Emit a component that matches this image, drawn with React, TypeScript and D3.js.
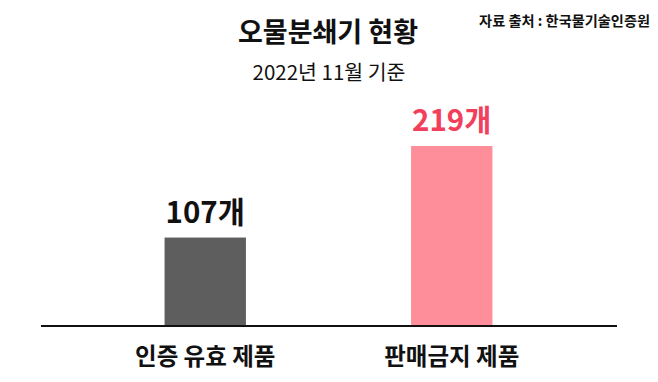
import React from "react";
import * as d3 from "d3";

const categories = ["인증 유효 제품", "판매금지 제품"];
const values = [107, 219];
const valueLabels = ["107개", "219개"];
const barColors = ["#5e5e5e", "#ff8e9b"];
const labelColors = ["#111111", "#f23f5b"];
const title = "오물분쇄기 현황";
const subtitle = "2022년 11월 기준";
const source = "자료 출처 : 한국물기술인증원";

const W = 658;
const H = 382;
const FONT = "'Noto Sans CJK KR', 'Noto Sans', sans-serif";

export default function App() {
  const x = d3.scaleBand<string>().domain(categories).range([82, 575]).paddingInner(0.67).paddingOuter(0.335);
  const y = d3.scaleLinear().domain([0, 219]).range([325, 146]);
  return (
    <svg width={W} height={H} style={{ position: "absolute", left: 0, top: 0, background: "#fff" }} fontFamily={FONT}>
      <rect width={W} height={H} fill="#fff" />
      <text x={328} y={42} textAnchor="middle" fontSize={27} fontWeight={700} fill="#111">{title}</text>
      <text x={329} y={80} textAnchor="middle" fontSize={20.5} fontWeight={400} fill="#111">{subtitle}</text>
      <text x={650} y={26} textAnchor="end" fontSize={14.2} fontWeight={700} fill="#111">{source}</text>
      {categories.map((c, i) => (
        <g key={c}>
          <rect x={x(c)} y={y(values[i])} width={x.bandwidth()} height={y(0) - y(values[i])} fill={barColors[i]} />
          <text x={(x(c) as number) + x.bandwidth() / 2} y={y(values[i]) - 15} textAnchor="middle" fontSize={29.5} fontWeight={700} fill={labelColors[i]}>{valueLabels[i]}</text>
          <text x={(x(c) as number) + x.bandwidth() / 2} y={365} textAnchor="middle" fontSize={23.5} fontWeight={700} fill="#111">{c}</text>
        </g>
      ))}
      <line x1={41} x2={617} y1={y(0) + 1} y2={y(0) + 1} stroke="#111" strokeWidth={2} />
    </svg>
  );
}
